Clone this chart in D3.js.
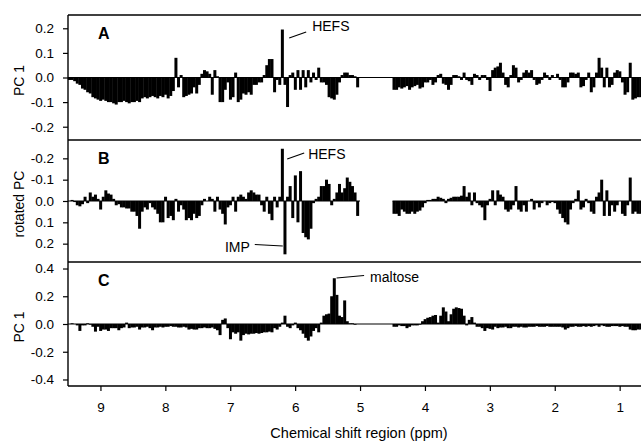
<!DOCTYPE html>
<html>
<head>
<meta charset="utf-8">
<script src="https://cdn.jsdelivr.net/npm/d3@7"></script>
<style>
  body { margin: 0; background: #fff; }
  svg { display: block; }
  text { font-family: "Liberation Sans", Arial, sans-serif; fill: #000; }
</style>
</head>
<body>
<svg id="chart" width="641" height="445"></svg>
<script>
// spectral bins, 0.04 ppm wide; the water region 5.0-4.5 ppm is left out
const binStep = 0.04;
const lowStart = 9.48;   // centre of first bin, 9.5-5.0 ppm block
const highStart = 4.48;  // centre of first bin, 4.5-0.7 ppm block

// panel A : PC 1
const pcA_low = [
  -0.01,-0.01,-0.015,-0.025,-0.03,-0.045,-0.05,-0.06,-0.065,-0.08,
  -0.085,-0.09,-0.095,-0.09,-0.095,-0.1,-0.1,-0.105,-0.11,-0.1,
  -0.1,-0.095,-0.1,-0.105,-0.1,-0.1,-0.095,-0.1,-0.085,-0.08,
  -0.085,-0.08,-0.075,-0.08,-0.085,-0.075,-0.08,-0.07,-0.085,-0.075,
  -0.055,0.08,-0.04,0.01,-0.08,-0.075,-0.07,-0.065,-0.04,-0.065,
  -0.03,0.015,0.03,0.025,0.015,-0.07,0.03,0.005,-0.1,-0.1,
  -0.05,-0.02,-0.09,-0.08,0.02,-0.1,-0.09,-0.065,-0.07,-0.06,
  -0.07,-0.03,-0.03,-0.02,-0.02,0.01,0.05,0.075,0.075,-0.06,
  -0.01,-0.03,0.195,-0.03,-0.12,0.01,0.02,-0.05,0.03,-0.05,
  0.03,-0.04,0.03,-0.02,0.02,-0.01,0.04,-0.02,-0.02,-0.03,
  -0.08,-0.085,-0.09,-0.07,-0.02,0.01,0.02,0.02,0.01,0.01,
  0.005,-0.04
];
const pcA_high = [
  -0.05,-0.05,-0.04,-0.045,-0.04,-0.035,-0.05,-0.04,-0.035,-0.03,
  -0.045,-0.04,-0.02,-0.02,-0.01,-0.03,-0.02,0.01,0.015,-0.025,
  -0.03,-0.05,-0.03,0.01,0.01,0.005,-0.01,0.02,-0.01,-0.015,
  -0.03,0.015,0.01,-0.01,0.01,0.01,-0.01,-0.055,0.03,0.04,
  0.045,0.06,0.02,-0.03,-0.04,0.01,0.05,0.04,-0.02,-0.01,
  0.02,0.03,0.02,0.03,-0.01,-0.03,-0.025,-0.01,0.02,0.01,
  -0.01,0.01,0,0.015,-0.01,-0.04,-0.04,-0.02,0.02,0.02,
  0.015,0.02,-0.04,-0.035,-0.01,0.02,-0.06,-0.04,0.02,0.08,
  0.04,-0.04,0.04,-0.04,-0.03,0.02,0.03,0.025,-0.02,-0.07,
  -0.06,0.06,-0.09,-0.085,-0.08,-0.08
];

// panel B : rotated PC (axis reversed)
const pcB_low = [
  0,-0.005,0.005,0.02,0.025,0.015,-0.02,0.01,-0.04,-0.02,
  -0.03,-0.01,0.04,-0.02,-0.05,-0.035,-0.03,-0.01,0.02,0.015,
  0.03,0.03,0.035,0.035,0.05,0.05,0.07,0.13,0.05,0.03,
  0.04,0.01,0.03,0.04,0.06,0.1,0.1,-0.02,0.08,0.07,
  0.09,-0.01,0.05,0.02,0.04,0.09,0.08,0.09,0.06,0.08,
  0.07,0.02,-0.01,0,-0.02,-0.01,0.05,-0.02,0.04,0.06,
  0.11,0.03,0.02,-0.02,0.05,-0.02,-0.03,-0.02,-0.01,-0.04,
  -0.05,-0.04,-0.03,-0.03,0.02,0.05,-0.02,0.06,0.09,-0.02,
  0.03,-0.02,-0.245,0.25,-0.02,-0.07,0.08,-0.12,0.1,-0.14,
  0.15,0.17,0.18,0.13,0.01,-0.01,-0.02,-0.07,-0.07,-0.1,
  -0.08,0.02,-0.01,-0.04,-0.08,-0.04,-0.06,-0.11,-0.09,-0.07,
  -0.04,0.07
];
const pcB_high = [
  0.06,0.06,0.07,0.04,0.05,0.06,0.06,0.05,0.06,0.05,
  0.045,0.03,0.01,-0.005,-0.005,-0.01,-0.01,-0.02,-0.015,-0.01,
  0.01,-0.01,-0.015,-0.02,-0.02,-0.02,-0.025,-0.07,-0.02,-0.04,
  0.02,-0.04,0.01,0.02,0.03,0.09,0.02,-0.01,-0.05,0.02,
  -0.05,-0.03,-0.02,0.04,0.05,0.04,0.02,-0.07,0.04,0.05,
  0.02,0.05,0,-0.01,0.04,0.01,0.03,0.01,0,0.02,
  0.01,0.005,0.01,0.04,0.06,0.08,0.1,0.11,0.04,0.01,
  -0.01,-0.05,0.04,0.03,-0.01,0.01,0.05,0.06,-0.02,-0.04,
  -0.1,0.07,-0.05,0.07,0.02,0.05,0.02,0,0.06,0.07,
  0.02,-0.11,0.06,0.05,0.06,0.06
];

// panel C : PC 1
const pcC_low = [
  0,0.005,0,-0.01,-0.05,-0.01,-0.01,0.005,-0.005,-0.02,
  -0.055,-0.02,-0.05,-0.04,-0.04,-0.05,-0.03,-0.03,-0.03,-0.045,
  -0.03,-0.025,0.01,-0.03,-0.025,-0.025,-0.02,-0.04,-0.025,-0.025,
  -0.02,-0.03,-0.045,-0.025,-0.025,-0.02,-0.025,-0.02,-0.02,-0.015,
  -0.02,-0.02,-0.025,-0.025,-0.02,-0.025,-0.04,-0.035,-0.04,-0.04,
  -0.03,-0.03,-0.025,-0.03,-0.03,-0.025,-0.035,-0.045,-0.08,0.03,
  0.04,-0.03,-0.11,-0.06,-0.07,-0.06,-0.12,-0.08,-0.07,-0.075,
  -0.07,-0.07,-0.065,-0.07,-0.065,-0.06,-0.06,-0.055,-0.06,-0.03,
  -0.04,-0.02,0.01,0.06,-0.02,-0.03,-0.01,0.01,-0.03,-0.045,
  -0.07,-0.1,-0.12,-0.09,-0.05,-0.03,-0.06,0.01,0.06,0.07,
  0.075,0.2,0.33,0.21,0.06,0.05,0.17,0.02,0.005,0.005,
  -0.005,0
];
const pcC_high = [
  -0.02,-0.02,-0.01,-0.015,-0.015,-0.03,-0.02,-0.01,-0.01,-0.01,
  -0.005,0.02,0.035,0.045,0.05,0.06,0.065,0.01,0.06,0.12,
  0.09,0.02,0.07,0.11,0.12,0.115,0.11,0.06,-0.01,0.03,
  0.05,0.01,-0.02,-0.02,-0.03,-0.05,-0.03,-0.035,-0.04,-0.02,
  -0.03,-0.025,-0.025,-0.02,-0.03,-0.03,-0.02,-0.02,-0.025,-0.02,
  -0.025,-0.025,-0.02,-0.02,-0.02,-0.015,-0.02,-0.02,-0.02,-0.015,
  -0.02,-0.02,-0.02,-0.02,-0.02,-0.025,-0.04,-0.03,-0.02,-0.02,
  -0.015,-0.02,-0.02,-0.015,-0.02,-0.015,-0.02,-0.015,-0.01,-0.02,
  -0.01,-0.015,-0.02,-0.02,-0.015,-0.015,-0.015,-0.02,-0.015,-0.02,
  -0.02,-0.04,-0.045,-0.045,-0.04,-0.04
];

const xTicks = [9, 8, 7, 6, 5, 4, 3, 2, 1];
const ticksA = [0.2, 0.1, 0, -0.1, -0.2];
const ticksB = [-0.2, -0.1, 0, 0.1, 0.2];
const ticksC = [0.4, 0.2, 0, -0.2, -0.4];

const svg = d3.select('#chart');
const W = 641;
const left = 68, bottom = 386;
const x = d3.scaleLinear().domain([9.5, 0.5]).range([left, left + 9 * 64.9]);

const panels = [
  { id: 'A', low: pcA_low, high: pcA_high, ticks: ticksA, title: 'PC 1', top: 15, bot: 140,
    y: d3.scaleLinear().domain([-0.254, 0.254]).range([140, 15]), gapLine: true },
  { id: 'B', low: pcB_low, high: pcB_high, ticks: ticksB, title: 'rotated PC', top: 140, bot: 262,
    y: d3.scaleLinear().domain([-0.286, 0.286]).range([140, 262]), gapLine: false },
  { id: 'C', low: pcC_low, high: pcC_high, ticks: ticksC, title: 'PC 1', top: 262, bot: 386,
    y: d3.scaleLinear().domain([-0.447, 0.447]).range([386, 262]), gapLine: true }
];

function bins(values, start) {
  return values.map((v, i) => ({ ppm: start - i * binStep, v: v }));
}

panels.forEach(p => {
  const g = svg.append('g');
  const y = p.y;
  const data = bins(p.low, lowStart).concat(bins(p.high, highStart));

  // zero line
  const segs = p.gapLine ? [[9.5, 0.5]] : [[9.5, 5.0], [4.5, 0.5]];
  segs.forEach(s => {
    g.append('line')
      .attr('x1', x(s[0])).attr('x2', Math.min(x(s[1]), W))
      .attr('y1', y(0)).attr('y2', y(0))
      .attr('stroke', '#000').attr('stroke-width', 1.2);
  });

  g.selectAll('rect.bar').data(data).enter()
    .append('rect')
      .attr('class', 'bar')
      .attr('x', d => x(d.ppm + binStep / 2))
      .attr('width', d => x(d.ppm - binStep / 2) - x(d.ppm + binStep / 2) + 0.4)
      .attr('y', d => Math.min(y(d.v), y(0)))
      .attr('height', d => Math.abs(y(d.v) - y(0)))
      .attr('fill', '#000');

  // y axis ticks
  const ax = g.append('g').attr('transform', `translate(${left},0)`)
    .call(d3.axisLeft(y).tickValues(p.ticks).tickFormat(d => d.toFixed(1)).tickSize(5).tickPadding(9));
  ax.select('.domain').remove();
  ax.selectAll('line').attr('stroke', '#000').attr('stroke-width', 1.2);
  ax.selectAll('text').attr('font-size', 13.5).attr('font-family', '"Liberation Sans", Arial, sans-serif');

  // axis title
  g.append('text')
    .attr('transform', `translate(24,${(p.top + p.bot) / 2 + 3}) rotate(-90)`)
    .attr('text-anchor', 'middle')
    .attr('font-size', 14)
    .text(p.title);

  // panel letter
  g.append('text')
    .attr('x', 98).attr('y', p.top + 24)
    .attr('font-size', 16).attr('font-weight', 'bold')
    .text(p.id);

  // separator line at panel top
  g.append('line')
    .attr('x1', left).attr('x2', W).attr('y1', p.top).attr('y2', p.top)
    .attr('stroke', '#000').attr('stroke-width', 1.4);
});

// left frame
svg.append('line')
  .attr('x1', left).attr('x2', left).attr('y1', 15).attr('y2', bottom)
  .attr('stroke', '#000').attr('stroke-width', 1.4);

// x axis
const xa = svg.append('g').attr('transform', `translate(0,${bottom})`)
  .call(d3.axisBottom(x).tickValues(xTicks).tickFormat(d3.format('d')).tickSize(5).tickPadding(11));
xa.select('.domain').remove();
xa.selectAll('line').attr('stroke', '#000').attr('stroke-width', 1.2);
xa.selectAll('text').attr('font-size', 13.5).attr('font-family', '"Liberation Sans", Arial, sans-serif');
svg.append('line')
  .attr('x1', left).attr('x2', W).attr('y1', bottom).attr('y2', bottom)
  .attr('stroke', '#000').attr('stroke-width', 1.4);

svg.append('text')
  .attr('x', 359).attr('y', 438)
  .attr('text-anchor', 'middle').attr('font-size', 14.5)
  .text('Chemical shift region (ppm)');

// peak labels, anchored at the labelled bins
const notes = [
  { panel: 0, ppm: 6.2, v: 0.195, text: 'HEFS', l: [7, 38, 24, 32], t: [30, 31], anchor: 'start' },
  { panel: 1, ppm: 6.2, v: -0.245, text: 'HEFS', l: [5, 159, 22, 153], t: [26, 159], anchor: 'start' },
  { panel: 1, ppm: 6.16, v: 0.25, text: 'IMP', l: [-30, 244.5, -2, 246], t: [-35, 251.5], anchor: 'end' },
  { panel: 2, ppm: 5.4, v: 0.33, text: 'maltose', l: [2.5, 278, 30, 275.5], t: [36, 282], anchor: 'start' }
];
notes.forEach(n => {
  const px = x(n.ppm);
  svg.append('line')
    .attr('x1', px + n.l[0]).attr('y1', n.l[1])
    .attr('x2', px + n.l[2]).attr('y2', n.l[3])
    .attr('stroke', '#000').attr('stroke-width', 1.2);
  svg.append('text')
    .attr('x', px + n.t[0]).attr('y', n.t[1])
    .attr('text-anchor', n.anchor).attr('font-size', 14)
    .text(n.text);
});
</script>
</body>
</html>
